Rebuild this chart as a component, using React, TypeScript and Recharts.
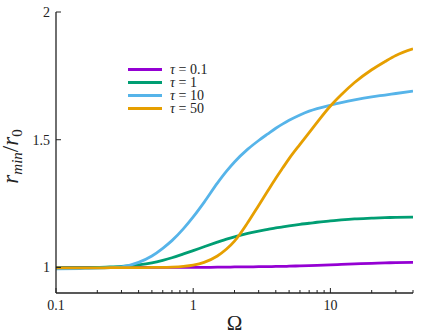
import React from 'react';
import { LineChart, Line, XAxis, YAxis, Legend } from 'recharts';

const omega = [0.1, 0.15, 0.2, 0.25, 0.3, 0.4, 0.5, 0.6, 0.7, 0.85, 1, 1.2, 1.5, 1.75, 2, 2.5, 3, 3.5, 4, 4.5, 5, 6, 7, 8, 10, 12, 15, 20, 25, 30, 40];
const tau01 = [1.0, 1.0, 1.0, 1.0, 1.0, 1.0, 1.0, 1.0, 1.0, 1.0, 1.0, 1.0, 1.001, 1.001, 1.002, 1.002, 1.003, 1.003, 1.004, 1.004, 1.005, 1.006, 1.007, 1.008, 1.01, 1.012, 1.014, 1.016, 1.018, 1.019, 1.02];
const tau1 = [0.999, 0.999, 1.0, 1.002, 1.004, 1.01, 1.018, 1.028, 1.038, 1.053, 1.066, 1.081, 1.099, 1.111, 1.12, 1.133, 1.142, 1.149, 1.155, 1.159, 1.163, 1.169, 1.173, 1.177, 1.182, 1.186, 1.19, 1.193, 1.195, 1.196, 1.197];
const tau10 = [0.995, 0.996, 0.997, 0.999, 1.002, 1.02, 1.045, 1.075, 1.105, 1.152, 1.198, 1.255, 1.33, 1.377, 1.413, 1.463, 1.497, 1.523, 1.545, 1.562, 1.576, 1.597, 1.612, 1.622, 1.635, 1.645, 1.656, 1.668, 1.675, 1.681, 1.69];
const tau50 = [0.998, 0.998, 0.998, 0.999, 0.999, 0.999, 1.0, 1.0, 1.001, 1.004, 1.009, 1.02, 1.045, 1.072, 1.103, 1.176, 1.243, 1.3, 1.349, 1.39, 1.426, 1.482, 1.528, 1.568, 1.632, 1.676, 1.724, 1.774, 1.806, 1.83, 1.856];

const seriesKeys = ['t01', 't1', 't10', 't50'];
const seriesValues = ['0.1', '1', '10', '50'];
const seriesColors = ['#9400d3', '#009e73', '#56b4e9', '#e69f00'];

const xTicks = [0.1, 0.2, 0.3, 0.4, 0.5, 0.6, 0.7, 0.8, 0.9, 1, 2, 3, 4, 5, 6, 7, 8, 9, 10, 20, 30, 40];
const xMajor = [0.1, 1, 10];
const yTicks = [1, 1.5, 2];

const data = omega.map((o, i) => ({ omega: o, t01: tau01[i], t1: tau1[i], t10: tau10[i], t50: tau50[i] }));

const FONT = 'Liberation Serif';
const FRAME = '#222';

const BottomTick = (props: any) => {
  const { x, y, payload } = props;
  const major = xMajor.includes(payload.value);
  return (
    <g>
      <line x1={x} y1={y} x2={x} y2={y - (major ? 5 : 3)} stroke={FRAME} strokeWidth={1} />
      {major && (
        <text x={x} y={y + 17} textAnchor="middle" style={{ fontFamily: FONT }} fontSize={14} fill="#222">
          {String(payload.value)}
        </text>
      )}
    </g>
  );
};

const TopTick = (props: any) => {
  const { x, y, payload } = props;
  const major = xMajor.includes(payload.value);
  return <line x1={x} y1={y} x2={x} y2={y + (major ? 5 : 3)} stroke={FRAME} strokeWidth={1} />;
};

const LeftTick = (props: any) => {
  const { x, y, payload } = props;
  return (
    <g>
      <line x1={x} y1={y} x2={x + 5} y2={y} stroke={FRAME} strokeWidth={1} />
      <text x={x - 6} y={y + 5} textAnchor="end" style={{ fontFamily: FONT }} fontSize={14} fill="#222">
        {String(payload.value)}
      </text>
    </g>
  );
};

const RightTick = (props: any) => {
  const { x, y } = props;
  return <line x1={x} y1={y} x2={x - 5} y2={y} stroke={FRAME} strokeWidth={1} />;
};

const YLabel = (props: any) => {
  const vb = props.viewBox || { x: 0, y: 12, width: 56, height: 281 };
  const cx = 18;
  const cy = vb.y + vb.height / 2 + 4;
  return (
    <text
      x={cx}
      y={cy}
      transform={`rotate(-90, ${cx}, ${cy})`}
      textAnchor="middle"
      style={{ fontFamily: FONT }}
      fontSize={23}
      fill="#222"
    >
      <tspan fontStyle="italic">r</tspan>
      <tspan fontStyle="italic" fontSize={15} dy={4}>min</tspan>
      <tspan dy={-4}>/</tspan>
      <tspan fontStyle="italic">r</tspan>
      <tspan fontSize={15} dy={4}>0</tspan>
    </text>
  );
};

const XLabel = (props: any) => {
  const vb = props.viewBox || { x: 56, y: 293, width: 357, height: 30 };
  return (
    <text x={vb.x + vb.width / 2} y={330} textAnchor="middle" style={{ fontFamily: FONT }} fontSize={21} fill="#222">
      Ω
    </text>
  );
};

const LegendContent = () => (
  <div style={{ fontFamily: FONT, fontSize: 14, color: '#222' }}>
    {seriesKeys.map((k, i) => (
      <div key={k} style={{ display: 'flex', alignItems: 'center', height: 13, whiteSpace: 'nowrap' }}>
        <svg width={36} height={13} style={{ display: 'block', flex: 'none' }}>
          <line x1={1} y1={6.5} x2={35} y2={6.5} stroke={seriesColors[i]} strokeWidth={3} />
        </svg>
        <span style={{ marginLeft: 7, lineHeight: '13px' }}>
          <i>τ</i> = {seriesValues[i]}
        </span>
      </div>
    ))}
  </div>
);

export default function App() {
  return (
    <div style={{ position: 'absolute', left: 0, top: 0, width: 435, height: 335, background: '#fff' }}>
      <LineChart width={435} height={335} data={data} margin={{ top: 12, right: 22, bottom: 12, left: 0 }}>
        <XAxis
          dataKey="omega"
          type="number"
          scale="log"
          domain={[0.1, 40]}
          allowDataOverflow
          ticks={xTicks}
          interval={0}
          tickSize={0}
          tickMargin={0}
          tickLine={false}
          tick={<BottomTick />}
          height={30}
          stroke={FRAME}
          strokeWidth={1.3}
          label={{ content: (p: any) => <XLabel {...p} /> }}
        />
        <XAxis
          xAxisId="top"
          orientation="top"
          dataKey="omega"
          type="number"
          scale="log"
          domain={[0.1, 40]}
          allowDataOverflow
          ticks={xTicks}
          interval={0}
          tickSize={0}
          tickMargin={0}
          tickLine={false}
          tick={<TopTick />}
          height={0}
          stroke={FRAME}
          strokeWidth={1.3}
        />
        <YAxis
          type="number"
          domain={[0.9, 2]}
          allowDataOverflow
          ticks={yTicks}
          interval={0}
          tickSize={0}
          tickMargin={0}
          tickLine={false}
          tick={<LeftTick />}
          width={56}
          stroke={FRAME}
          strokeWidth={1.3}
          label={{ content: (p: any) => <YLabel {...p} /> }}
        />
        <YAxis
          yAxisId="right"
          orientation="right"
          type="number"
          domain={[0.9, 2]}
          allowDataOverflow
          ticks={yTicks}
          interval={0}
          tickSize={0}
          tickMargin={0}
          tickLine={false}
          tick={<RightTick />}
          width={0}
          stroke={FRAME}
          strokeWidth={1.3}
        />
        <Legend
          layout="horizontal"
          align="center"
          verticalAlign="middle"
          wrapperStyle={{ position: 'absolute', left: 127, top: 63, width: 120, height: 52 }}
          content={<LegendContent />}
        />
        {seriesKeys.map((k, i) => (
          <Line
            key={k}
            dataKey={k}
            type="monotone"
            stroke={seriesColors[i]}
            strokeWidth={2.8}
            dot={false}
            isAnimationActive={false}
          />
        ))}
      </LineChart>
    </div>
  );
}
